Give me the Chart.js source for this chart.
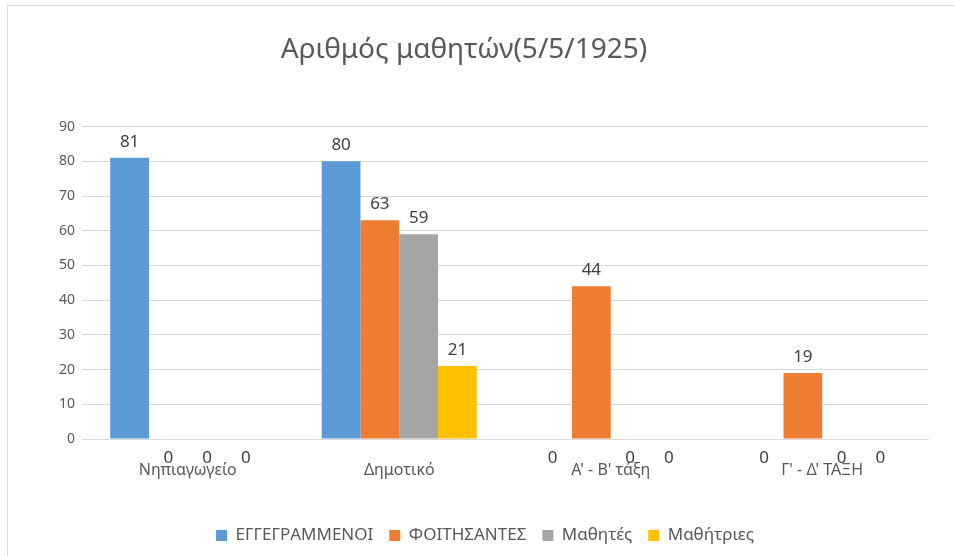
<!DOCTYPE html>
<html>
<head>
<meta charset="utf-8">
<script src="https://cdn.jsdelivr.net/npm/chart.js@4"></script>
<style>
  html, body { margin: 0; padding: 0; background: #fff; }
  #wrap { position: relative; width: 954px; height: 556px; overflow: hidden; }
  #frame { position: absolute; left: 7px; top: 5px; width: 1000px; height: 600px; border: 1px solid #d9d9d9; }
  canvas { position: absolute; left: 0; top: 0; }
</style>
</head>
<body>
<div id="wrap">
  <div id="frame"></div>
  <canvas id="chart" width="954" height="556"></canvas>
</div>
<script>
const categories = ['Νηπιαγωγείο', 'Δημοτικό', "Α' - Β' τάξη", "Γ' - Δ' ΤΑΞΗ"];
const seriesNames = ['ΕΓΓΕΓΡΑΜΜΕΝΟΙ', 'ΦΟΙΤΗΣΑΝΤΕΣ', 'Μαθητές', 'Μαθήτριες'];
const registered = [81, 80, 0, 0];
const attended = [0, 63, 44, 19];
const boys = [0, 59, 0, 0];
const girls = [0, 21, 0, 0];
const colors = ['#5b9bd5', '#ed7d31', '#a5a5a5', '#ffc000'];

const FONT = '"Noto Sans", sans-serif';

// value labels: above the bar, zeros sit under the axis like in Excel
const valueLabels = {
  id: 'valueLabels',
  afterLayout(chart) {
    // legend is centred on the whole canvas, not only left of the right padding
    chart.legend.left = 16;
    chart.legend.right = chart.width;
  },
  afterDatasetsDraw(chart) {
    const ctx = chart.ctx;
    const base = chart.scales.y.getPixelForValue(0);
    ctx.save();
    ctx.font = '17px ' + FONT;
    ctx.fillStyle = '#404040';
    ctx.textAlign = 'center';
    ctx.textBaseline = 'middle';
    chart.data.datasets.forEach((ds, i) => {
      chart.getDatasetMeta(i).data.forEach((bar, j) => {
        const v = ds.data[j];
        const y = v > 0 ? bar.y - 16 : base + 19;
        ctx.fillText(String(v), bar.x, y);
      });
    });
    ctx.restore();
  }
};

new Chart(document.getElementById('chart'), {
  type: 'bar',
  data: {
    labels: categories,
    datasets: [registered, attended, boys, girls].map((d, i) => ({
      label: seriesNames[i],
      data: d,
      backgroundColor: colors[i],
      categoryPercentage: 0.733,
      barPercentage: 1
    }))
  },
  options: {
    responsive: false,
    animation: false,
    layout: { padding: { left: 0, right: 26, top: 0, bottom: 2 } },
    scales: {
      x: {
        grid: { display: false, drawTicks: false },
        border: { color: '#d9d9d9', width: 1 },
        ticks: { color: '#595959', font: { family: FONT, size: 16 }, padding: 22 },
        afterFit(scale) { scale.height = 72; }
      },
      y: {
        min: 0, max: 90,
        ticks: { stepSize: 10, color: '#595959', font: { family: FONT, size: 14 }, padding: 7 },
        grid: { color: '#d9d9d9', drawTicks: false },
        border: { display: false },
        afterFit(scale) { scale.width = 82; }
      }
    },
    plugins: {
      title: {
        display: true,
        text: 'Αριθμός μαθητών(5/5/1925)',
        color: '#595959',
        font: { family: FONT, size: 28, weight: 'normal' },
        padding: { top: 33, bottom: 60 }
      },
      legend: {
        position: 'bottom',
        labels: {
          color: '#595959',
          font: { family: FONT, size: 17 },
          boxWidth: 11, boxHeight: 11,
          padding: 16
        }
      },
      tooltip: { enabled: false }
    }
  },
  plugins: [valueLabels]
});
</script>
</body>
</html>
